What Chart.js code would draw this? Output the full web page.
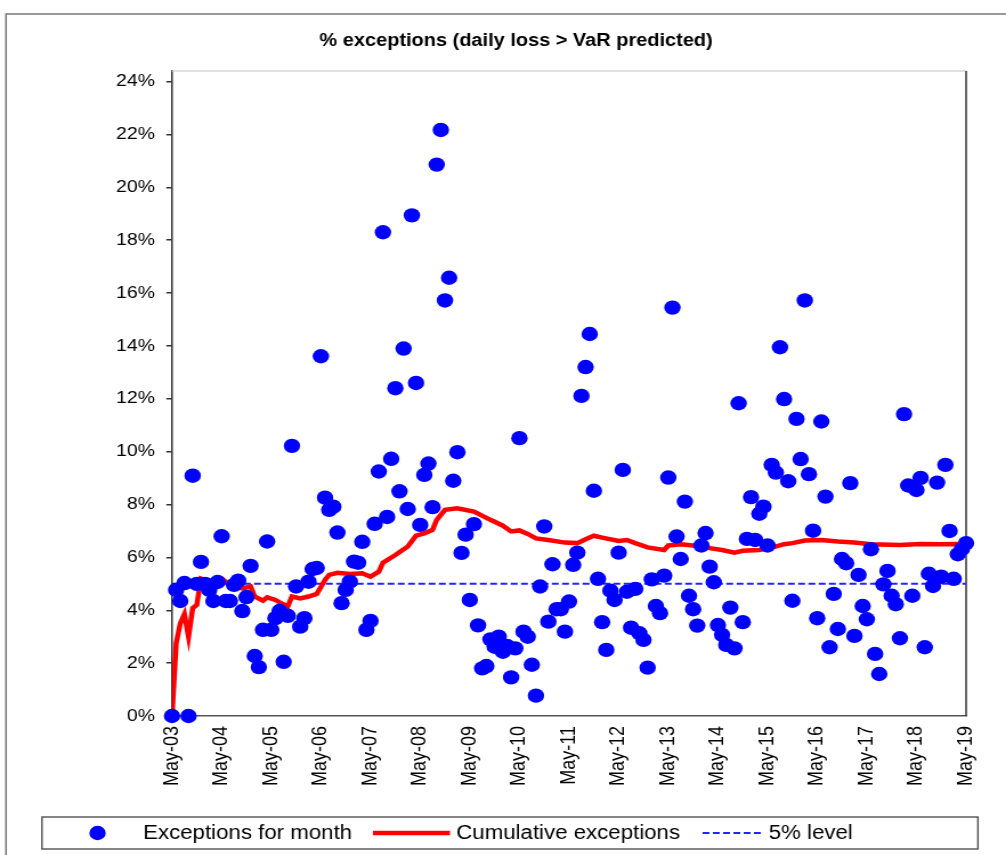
<!DOCTYPE html>
<html>
<head>
<meta charset="utf-8">
<title>% exceptions (daily loss &gt; VaR predicted)</title>
<script src="https://cdn.jsdelivr.net/npm/chart.js@4.4.1/dist/chart.umd.min.js"></script>
<style>
  html, body { margin: 0; padding: 0; background: #fff; overflow: hidden; }
  #chart { display: block; }
</style>
</head>
<body>
<!-- the reference is a little wider than tall, so the canvas is stretched sideways -->
<canvas id="chart" width="882" height="855" style="width:1006px;height:855px"></canvas>
<script>
const tickLabels = ["May-03", "May-04", "May-05", "May-06", "May-07", "May-08", "May-09", "May-10",
  "May-11", "May-12", "May-13", "May-14", "May-15", "May-16", "May-17", "May-18", "May-19"];

// % of days in the month with loss > VaR, one value per month from May-03
const monthlyExceptions = [
  0, 4.77, 4.35, 5.03, 0, 9.09, 5.0, 5.83, 5.0, 4.77, 4.35, 5.07,
  6.8, 4.35, 4.35, 4.96, 5.12, 3.97, 4.5, 5.68, 2.27, 1.85, 3.26, 6.6,
  3.26, 3.7, 3.97, 2.05, 3.79, 10.22, 4.9, 3.38, 3.7, 5.08, 5.56, 5.6,
  13.61, 8.26, 7.8, 7.92, 6.94, 4.27, 4.77, 5.08, 5.84, 5.8, 6.59, 3.26,
  3.6, 7.27, 9.25, 18.3, 7.53, 9.73, 12.4, 8.5, 13.9, 7.83, 18.94, 12.6,
  7.23, 9.12, 9.55, 7.9, 20.86, 22.17, 15.72, 16.58, 8.9, 9.98, 6.17, 6.86,
  4.39, 7.26, 3.43, 1.8, 1.89, 2.9, 2.62, 3.0, 2.43, 2.65, 1.46, 2.56,
  10.51, 3.19, 3.0, 1.94, 0.77, 4.9, 7.17, 3.57, 5.74, 4.04, 4.04, 3.19,
  4.33, 5.72, 6.18, 12.11, 13.2, 14.45, 8.52, 5.19, 3.55, 2.5, 4.74, 4.39,
  6.18, 9.31, 4.7, 3.34, 4.81, 3.13, 2.88, 1.83, 5.17, 4.16, 3.89, 5.31,
  9.02, 15.45, 6.79, 5.94, 8.11, 4.55, 4.04, 3.42, 6.45, 6.92, 5.65, 5.06,
  3.44, 3.07, 2.69, 4.1, 2.56, 11.83, 3.55, 6.7, 8.28, 6.66, 7.65, 7.92,
  6.45, 9.5, 9.21, 13.95, 11.99, 8.88, 4.36, 11.24, 9.72, 15.72, 9.15, 7.01,
  3.7, 11.14, 8.3, 2.6, 4.62, 3.29, 5.94, 5.78, 8.81, 3.03, 5.34, 4.16,
  3.66, 6.31, 2.35, 1.59, 4.98, 5.49, 4.55, 4.23, 2.94, 11.42, 8.72, 4.55,
  8.55, 9.01, 2.6, 5.38, 4.92, 8.83, 5.27, 9.5, 7.0, 5.19, 6.12, 6.32,
  6.54
];

// cumulative exceptions (month index from May-03)
const cumulativeMonths = [0, 1, 2, 3, 4, 5, 6, 7, 10, 12, 14, 17, 19, 20, 22, 23, 25, 26, 28, 29,
  31, 33, 35, 37, 38, 40, 43, 46, 48, 50, 51, 54, 57, 59, 61, 63, 64, 66, 69, 73,
  77, 80, 82, 84, 86, 88, 91, 95, 98, 100, 102, 104, 108, 110, 112, 115, 119, 120, 123, 127,
  128, 130, 133, 136, 138, 142, 145, 148, 150, 153, 157, 161, 165, 169, 176, 181, 186, 190, 192];
const cumulativeValues = [0, 2.75, 3.5, 3.85, 3.0, 4.08, 4.2, 5.2, 5.05, 5.2, 4.95, 4.83, 4.9, 4.52, 4.36, 4.49, 4.39, 4.3, 4.14, 4.52,
  4.45, 4.52, 4.62, 5.15, 5.34, 5.42, 5.37, 5.4, 5.27, 5.46, 5.8, 6.09, 6.41, 6.82, 6.91, 7.04, 7.42, 7.8, 7.86, 7.73,
  7.42, 7.2, 6.98, 7.02, 6.89, 6.72, 6.66, 6.56, 6.54, 6.69, 6.82, 6.75, 6.62, 6.66, 6.54, 6.38, 6.28, 6.45, 6.5, 6.43,
  6.47, 6.35, 6.28, 6.18, 6.25, 6.28, 6.37, 6.5, 6.54, 6.64, 6.66, 6.6, 6.56, 6.5, 6.47, 6.51, 6.5, 6.51, 6.5];

const levelMonths = [0, 192];
const levelValues = [5, 5];

const FONT = "'Liberation Sans', Arial, Helvetica, sans-serif";
const BLUE = "#0000ff";
const RED = "#ff0000";
const DASH_BLUE = "#2323ff";

// outer frame, plot box and the boxed legend at the bottom
const framePlugin = {
  id: "frame",
  beforeDraw(chart) {
    const ctx = chart.ctx;
    ctx.save();
    ctx.fillStyle = "#fff";
    ctx.fillRect(0, 0, chart.width, chart.height);
    ctx.strokeStyle = "#777";
    ctx.lineWidth = 1.5;
    ctx.strokeRect(5.3, 14, chart.width + 20, chart.height + 20);
    ctx.restore();
  },
  beforeDatasetsDraw(chart) {
    const { ctx, chartArea: a } = chart;
    ctx.save();
    ctx.strokeStyle = "#d6d6d6";
    ctx.lineWidth = 1.5;
    ctx.beginPath();
    ctx.moveTo(a.left, a.top);
    ctx.lineTo(a.right, a.top);
    ctx.stroke();
    ctx.strokeStyle = "#333";
    ctx.beginPath();
    ctx.moveTo(a.right, a.top);
    ctx.lineTo(a.right, a.bottom);
    ctx.stroke();
    ctx.restore();
  },
  afterDraw(chart) {
    const ctx = chart.ctx;
    const ds = chart.data.datasets;
    const cy = 833;
    ctx.save();
    ctx.strokeStyle = "#444";
    ctx.lineWidth = 1.3;
    ctx.strokeRect(36.8, 817, 820.6, 32);

    ctx.fillStyle = BLUE;
    ctx.beginPath();
    ctx.arc(85.5, cy, 7.2, 0, Math.PI * 2);
    ctx.fill();

    ctx.strokeStyle = RED;
    ctx.lineWidth = 4.5;
    ctx.beginPath();
    ctx.moveTo(327, cy);
    ctx.lineTo(394.5, cy);
    ctx.stroke();

    ctx.strokeStyle = DASH_BLUE;
    ctx.lineWidth = 2;
    ctx.setLineDash([6, 3]);
    ctx.beginPath();
    ctx.moveTo(616, cy);
    ctx.lineTo(669, cy);
    ctx.stroke();
    ctx.setLineDash([]);

    ctx.fillStyle = "#000";
    ctx.font = "19.5px " + FONT;
    ctx.textBaseline = "middle";
    ctx.textAlign = "left";
    ctx.fillText(ds[0].label, 125.5, cy + 1);
    ctx.fillText(ds[1].label, 400, cy + 1);
    ctx.fillText(ds[2].label, 674, cy + 1);
    ctx.restore();
  }
};

const ctx = document.getElementById("chart").getContext("2d");

const chart = new Chart(ctx, {
  type: "scatter",
  data: {
    datasets: [
      {
        type: "scatter",
        label: "Exceptions for month",
        data: monthlyExceptions.map((v, i) => ({ x: i, y: v })),
        backgroundColor: BLUE,
        borderWidth: 0,
        pointRadius: 7.2,
        pointHoverRadius: 7.2,
        clip: false
      },
      {
        type: "line",
        label: "Cumulative exceptions",
        data: cumulativeMonths.map((m, i) => ({ x: m, y: cumulativeValues[i] })),
        borderColor: RED,
        borderWidth: 4.5,
        pointRadius: 0,
        tension: 0,
        fill: false
      },
      {
        type: "line",
        label: "5% level",
        data: levelMonths.map((m, i) => ({ x: m, y: levelValues[i] })),
        borderColor: DASH_BLUE,
        borderWidth: 2,
        borderDash: [6, 3],
        pointRadius: 0,
        fill: false
      }
    ]
  },
  options: {
    responsive: false,
    animation: false,
    devicePixelRatio: 1,
    // wider left padding pushes the centred title to the right, the y axis width makes up for it
    layout: { padding: { left: 58, right: 35, top: 0, bottom: 69 } },
    plugins: {
      legend: { display: false },
      tooltip: { enabled: false },
      title: {
        display: true,
        text: "% exceptions (daily loss > VaR predicted)",
        color: "#000",
        font: { family: FONT, size: 17.5, weight: "bold" },
        padding: { top: 31, bottom: 19 }
      }
    },
    scales: {
      x: {
        type: "linear",
        min: 0,
        max: 192,
        grid: { display: false, drawTicks: false },
        border: { display: true, color: "#555", width: 1.5 },
        ticks: {
          stepSize: 12,
          autoSkip: false,
          minRotation: 90,
          maxRotation: 90,
          padding: 10,
          color: "#000",
          font: { family: FONT, size: 18 },
          callback: (v) => tickLabels[v / 12]
        },
        afterFit: (s) => { s.height = 70; }
      },
      y: {
        min: 0,
        max: 24.4,
        afterBuildTicks: (axis) => {
          const ticks = [];
          for (let v = 0; v <= 24; v += 2) ticks.push({ value: v });
          axis.ticks = ticks;
        },
        grid: { drawOnChartArea: false, drawTicks: true, tickLength: 5, color: "#333", lineWidth: 1.5 },
        border: { display: true, color: "#333", width: 1.5 },
        ticks: {
          padding: 10,
          color: "#000",
          font: { family: FONT, size: 17 },
          callback: (v) => v + "%"
        },
        afterFit: (s) => { s.width = 92.8; }
      }
    }
  },
  plugins: [framePlugin]
});
</script>
</body>
</html>
